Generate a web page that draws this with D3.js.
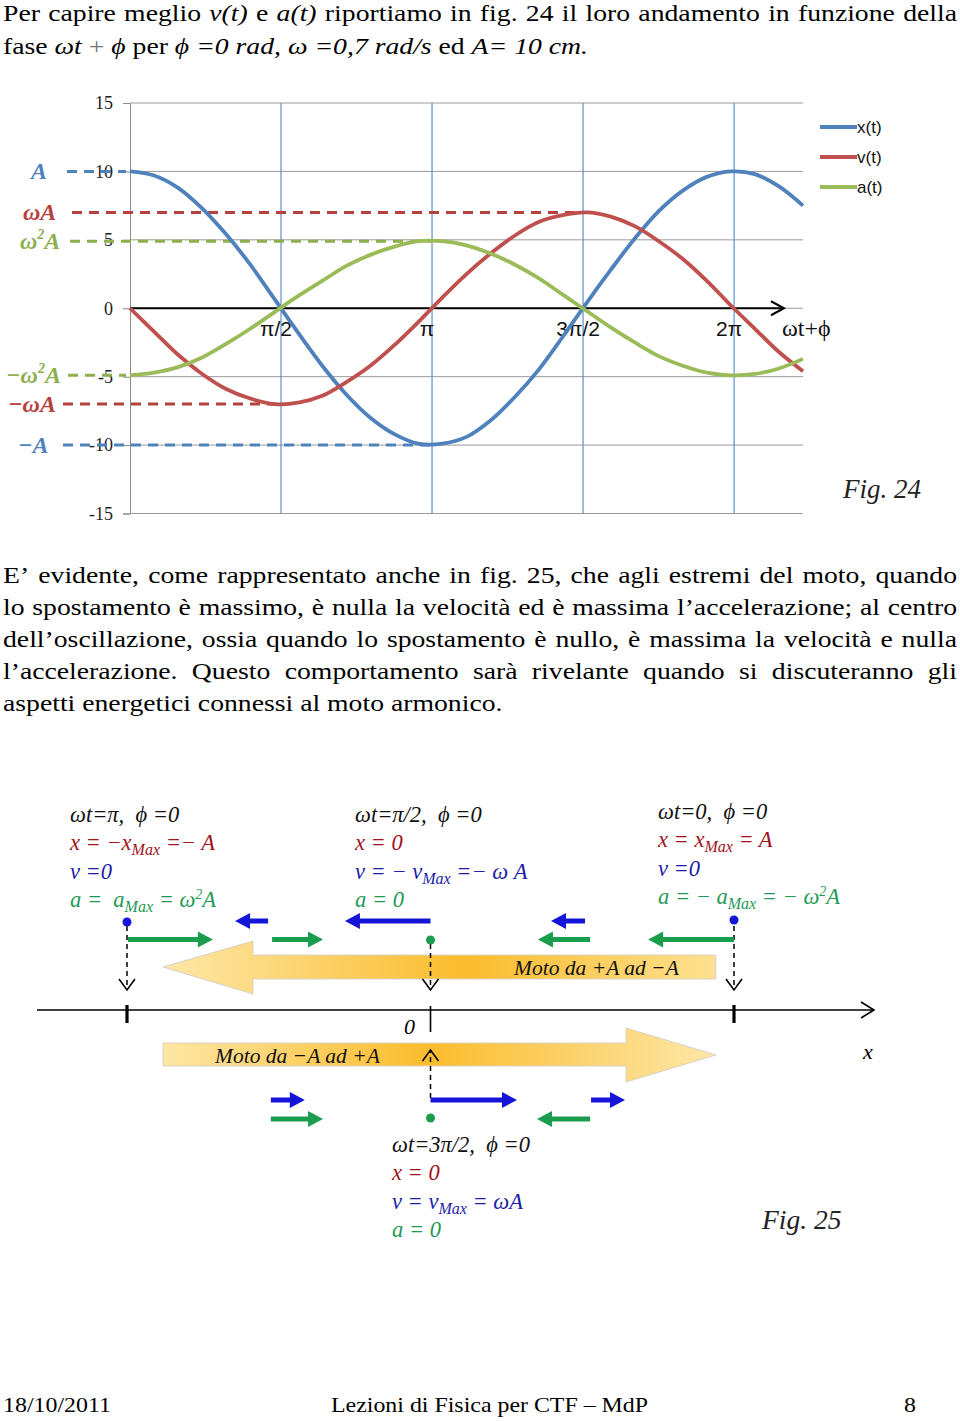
<!DOCTYPE html>
<html><head><meta charset="utf-8">
<script src="https://cdn.jsdelivr.net/npm/d3@7"></script>
<style>body{margin:0;background:#fff}svg{display:block}text{white-space:pre}</style>
</head><body><svg id="c" width="960" height="1421"></svg>
<script>
// ---------- DATA (fig. 24) ----------
const phases = [0,0.25,0.5,0.75,1,1.25,1.5,1.75,2,2.25,2.5,2.75,3,3.25,3.5,3.75,4,4.25,4.5,4.75,5,5.25,5.5,5.75,6,6.25,6.5,6.75,7];
const xSeries = [10,9.7,8.8,7.3,5.4,3.2,0.7,-1.8,-4.2,-6.3,-8.0,-9.2,-9.9,-9.9,-9.4,-8.2,-6.5,-4.5,-2.1,0.4,2.8,5.1,7.1,8.6,9.6,10.0,9.8,8.9,7.5];
const vSeries = [0,-1.7,-3.4,-4.8,-5.9,-6.6,-7.0,-6.9,-6.4,-5.4,-4.2,-2.7,-1.0,0.8,2.5,4.0,5.3,6.3,6.8,7.0,6.7,6.0,4.9,3.6,2.0,0.2,-1.5,-3.2,-4.6];
const aSeries = [-4.9,-4.7,-4.3,-3.6,-2.6,-1.5,-0.3,0.9,2.0,3.1,3.9,4.5,4.9,4.9,4.6,4.0,3.2,2.2,1.0,-0.2,-1.4,-2.5,-3.5,-4.2,-4.7,-4.9,-4.8,-4.4,-3.7];
const seriesNames = ["x(t)","v(t)","a(t)"];
const yTicks = [15,10,5,0,-5,-10,-15];
const piMarks = [Math.PI/2, Math.PI, 3*Math.PI/2, 2*Math.PI];
const piLabels = ["π/2","π","3π/2","2π"];
const refValues = [10, 7, 4.9, -4.9, -7, -10];
const refEnds = [0, 3*Math.PI/2, Math.PI, 0, Math.PI/2, Math.PI];
const refLabels = [[["A",""]],[["ωA",""]],[["ω",""],["2","p"],["A",""]],[["−ω",""],["2","p"],["A",""]],[["−ωA",""]],[["−A",""]]];

// ---------- DATA (fig. 25) ----------
const statePos = [-1, 0, 1, 0];            // positions in units of A
const vTop = [[-0.535,-0.644],[0,-0.282],[0.509,0.397]];   // [tail, head]
const aTop = [[-0.997,-0.717],[-0.522,-0.354],[0.526,0.354],[1,0.717]];
const vBottom = [[-0.526,-0.414],[0,0.285],[0.529,0.641]];
const aBottom = [[-0.526,-0.354],[0.526,0.351]];

const svg = d3.select('#c');
const serif = "'Liberation Serif','Times New Roman',serif";
const sans = "'Liberation Sans',Arial,sans-serif";
const C = {blue:"#4F81BD", red:"#C0504D", green:"#9BBB59"};
const seriesColors = [C.blue, C.red, C.green];
const refColors = ["#4F81BD","#B5403D","#8DAF4E","#8DAF4E","#B5403D","#4F81BD"];
const refStarts = [67,72,70,68,63,63];
const refLabelX = [31,23,20,6,8,18];
const SX = 1.155;   // horizontal stretch of the page text

// ---------- justified text helper ----------
function textLine(y, words, x0, x1, size, doJustify, sx) {
  const g = svg.append('g').attr('transform', `scale(${sx},1)`)
    .attr('font-family', serif).attr('font-size', size).attr('fill', '#000');
  const nodes = words.map(w => g.append('text').attr('y', y).attr('font-style', w.i ? 'italic' : null).text(w.t));
  const ws = nodes.map(n => n.node().getComputedTextLength());
  const L0 = x0 / sx, L1 = x1 / sx;
  const gap = doJustify ? (L1 - L0 - d3.sum(ws)) / (ws.length - 1) : size * 0.25;
  let x = L0;
  nodes.forEach((n, i) => { n.attr('x', x); x += ws[i] + gap; });
}
const plain = s => s.split(' ').map(t => ({t}));
function stretchText(parent, x, y, sx) {
  return parent.append('text').attr('transform', `translate(${x},${y}) scale(${sx},1)`);
}

// top text
textLine(21, [...plain("Per capire meglio"), {t:"v(t)",i:1}, {t:"e"}, {t:"a(t)",i:1}, ...plain("riportiamo in fig. 24 il loro andamento in funzione della")], 3, 957, 24, true, SX);
{
  const t = stretchText(svg, 3, 54, SX).attr('font-family', serif).attr('font-size', 24);
  [["fase ",0],["ωt",1],[" + ",2],["ϕ",1],[" per ",0],["ϕ",1],[" =0 rad, ",1],["ω",1],[" =0,7 rad/s",1],[" ed ",0],["A",1],["= 10 cm.",1]]
    .forEach(([s,k]) => t.append('tspan').attr('font-style', k===1?'italic':null).attr('fill', k===2?'#777':'#000').text(s));
}

// ---------- FIG 24 ----------
const xs = d3.scaleLinear().domain([0, 7]).range([130, 803]);
const ys = d3.scaleLinear().domain([-15, 15]).range([513.5, 103]);

const g24 = svg.append('g');
g24.selectAll('line.hg').data(yTicks).join('line')
  .attr('x1', xs(0)).attr('x2', xs(7)).attr('y1', d => ys(d)).attr('y2', d => ys(d))
  .attr('stroke', '#9a9a9a').attr('stroke-width', 1);
const yAxis = d3.axisLeft(ys).tickValues(yTicks).tickSize(7).tickFormat(d => String(d));
const ya = g24.append('g').attr('transform', `translate(${xs(0)},0)`).call(yAxis)
  .attr('font-family', serif).attr('font-size', 18);
ya.select('.domain').attr('stroke', '#8a8a8a');
ya.selectAll('.tick line').attr('stroke', '#8a8a8a');
ya.selectAll('.tick text').attr('font-family', serif).attr('font-size', 18).attr('fill', '#222').attr('x', -17);
g24.selectAll('line.vg').data(piMarks).join('line')
  .attr('x1', d => xs(d)).attr('x2', d => xs(d)).attr('y1', ys(15)).attr('y2', ys(-15))
  .attr('stroke', '#5B8FD0').attr('stroke-width', 1.2);
g24.append('line').attr('x1', xs(0)).attr('x2', 783).attr('y1', ys(0)).attr('y2', ys(0)).attr('stroke', '#000').attr('stroke-width', 2);
g24.append('path').attr('d', `M771,${ys(0)-7} L784,${ys(0)} L771,${ys(0)+7}`).attr('fill', 'none').attr('stroke', '#000').attr('stroke-width', 2);
g24.selectAll('text.pl').data(piLabels).join('text')
  .attr('x', (d, i) => xs(piMarks[i]) - 5).attr('y', ys(0) + 28).attr('text-anchor', 'middle')
  .attr('font-family', sans).attr('font-size', 21).attr('fill', '#111').text(d => d);
g24.append('text').attr('x', 782).attr('y', ys(0) + 28).attr('font-family', serif).attr('font-size', 24).attr('fill', '#111').text('ωt+ϕ');

// reference dashed lines
g24.selectAll('line.ref').data(refValues).join('line')
  .attr('x1', (d, i) => refStarts[i]).attr('x2', (d, i) => refEnds[i] === 0 ? xs(0) - 4 : xs(refEnds[i]))
  .attr('y1', d => ys(d)).attr('y2', d => ys(d))
  .attr('stroke', (d, i) => refColors[i]).attr('stroke-width', 3).attr('stroke-dasharray', '10,7');
refValues.forEach((v, i) => {
  const t = g24.append('text').attr('x', refLabelX[i]).attr('y', ys(v) + 8)
    .attr('font-family', serif).attr('font-size', 24).attr('font-weight', 'bold').attr('font-style', 'italic')
    .attr('fill', refColors[i]);
  let prevSup = false;
  refLabels[i].forEach(([s, k]) => {
    const ts = t.append('tspan').text(s);
    if (k === 'p') { ts.attr('font-size', 14).attr('dy', -10); prevSup = true; }
    else if (prevSup) { ts.attr('dy', 10); prevSup = false; }
  });
});

// curves
const seriesData = [xSeries, vSeries, aSeries];
const line = d3.line().x((d, i) => xs(phases[i])).y(d => ys(d)).curve(d3.curveCatmullRom.alpha(0.5));
g24.selectAll('path.s').data(seriesData).join('path')
  .attr('d', d => line(d)).attr('fill', 'none').attr('stroke', (d, i) => seriesColors[i]).attr('stroke-width', 3.8);

// legend
const lg = g24.append('g');
seriesNames.forEach((n, i) => {
  const y = 127 + i * 30;
  lg.append('line').attr('x1', 820).attr('x2', 857).attr('y1', y).attr('y2', y).attr('stroke', seriesColors[i]).attr('stroke-width', 4);
  lg.append('text').attr('x', 857).attr('y', y + 6).attr('font-family', sans).attr('font-size', 17).attr('fill', '#111').text(n);
});
svg.append('text').attr('x', 843).attr('y', 498).attr('font-family', serif).attr('font-size', 27).attr('font-style', 'italic').attr('fill', '#222').text('Fig. 24');

// paragraph
const para = [
  "E’ evidente, come rappresentato anche in fig. 25, che agli estremi del moto, quando",
  "lo spostamento è massimo, è nulla la velocità ed è massima l’accelerazione; al centro",
  "dell’oscillazione, ossia quando lo spostamento è nullo, è massima la velocità e nulla",
  "l’accelerazione. Questo comportamento sarà rivelante quando si discuteranno gli",
  "aspetti energetici connessi al moto armonico."
];
para.forEach((l, i) => textLine(583 + i * 32, plain(l), 3, 957, 24, i < para.length - 1, SX));

// ---------- FIG 25 ----------
const ps = d3.scaleLinear().domain([-1, 1]).range([127, 734]);
const g25 = svg.append('g');
const defs = svg.append('defs');
function grad(id, x1, x2, stops) {
  const lgd = defs.append('linearGradient').attr('id', id).attr('gradientUnits', 'userSpaceOnUse')
    .attr('x1', x1).attr('x2', x2).attr('y1', 0).attr('y2', 0);
  stops.forEach(([o, c]) => lgd.append('stop').attr('offset', o).attr('stop-color', c));
}
grad('gUp', 163, 717, [[0, '#FDE7A8'], [0.55, '#FBBC2C'], [1, '#FDE190']]);
grad('gDn', 163, 716, [[0, '#FDE6A4'], [0.48, '#FBBC2C'], [1, '#FDE7A8']]);

g25.append('path').attr('d', `M${ps(0.94)},955 L253,955 L253,941 L163,967 L253,994 L253,979 L${ps(0.94)},979 Z`)
  .attr('fill', 'url(#gUp)').attr('stroke', '#d9d2c4').attr('stroke-width', 1);
g25.append('path').attr('d', `M163,1043 L626,1043 L626,1028 L${ps(0.94)},1055 L626,1082 L626,1066 L163,1066 Z`)
  .attr('fill', 'url(#gDn)').attr('stroke', '#d9d2c4').attr('stroke-width', 1);
g25.append('text').attr('x', 514).attr('y', 975).attr('font-family', serif).attr('font-size', 21.5).attr('font-style', 'italic').attr('fill', '#111').text('Moto da +A ad −A');
g25.append('text').attr('x', 215).attr('y', 1063).attr('font-family', serif).attr('font-size', 21.5).attr('font-style', 'italic').attr('fill', '#111').text('Moto da −A ad +A');

const AY = 1010;
g25.append('line').attr('x1', 37).attr('x2', 873).attr('y1', AY).attr('y2', AY).attr('stroke', '#000').attr('stroke-width', 1.6);
g25.append('path').attr('d', `M861,${AY-8} L874,${AY} L861,${AY+8}`).attr('fill', 'none').attr('stroke', '#000').attr('stroke-width', 1.6);
[-1, 1].forEach(p => g25.append('line').attr('x1', ps(p)).attr('x2', ps(p)).attr('y1', AY - 5).attr('y2', AY + 13).attr('stroke', '#000').attr('stroke-width', 3.2));
g25.append('line').attr('x1', ps(0)).attr('x2', ps(0)).attr('y1', AY - 4).attr('y2', AY + 22).attr('stroke', '#000').attr('stroke-width', 1.6);
g25.append('text').attr('x', 404).attr('y', 1034).attr('font-family', serif).attr('font-size', 22).attr('font-style', 'italic').text('0');
g25.append('text').attr('x', 863).attr('y', 1059).attr('font-family', serif).attr('font-size', 22).attr('font-style', 'italic').text('x');

function dashArrow(x, yFrom, yTo) {
  g25.append('line').attr('x1', x).attr('x2', x).attr('y1', yFrom).attr('y2', yTo).attr('stroke', '#000').attr('stroke-width', 1.5).attr('stroke-dasharray', '5,4');
  const s = yTo > yFrom ? -1 : 1;
  g25.append('path').attr('d', `M${x-8},${yTo + s*11} L${x},${yTo} L${x+8},${yTo + s*11}`).attr('fill', 'none').attr('stroke', '#000').attr('stroke-width', 1.6);
}
dashArrow(ps(-1), 926, 990);
dashArrow(ps(0), 944, 990);
dashArrow(ps(1), 926, 990);
dashArrow(ps(0), 1098, 1050);

function arrow(tail, head, y, color) {
  const x0 = ps(tail), x1 = ps(head), dir = Math.sign(x1 - x0);
  const hl = 15, hw = 8, sw = 2.5;
  const xb = x1 - dir * hl;
  g25.append('path').attr('d', `M${x0},${y-sw} L${xb},${y-sw} L${xb},${y-hw} L${x1},${y} L${xb},${y+hw} L${xb},${y+sw} L${x0},${y+sw} Z`).attr('fill', color);
}
const BLUE = '#1515D8', GREEN = '#1A9E4E';
vTop.forEach(([t, h]) => arrow(t, h, 921, BLUE));
aTop.forEach(([t, h]) => arrow(t, h, 939.5, GREEN));
vBottom.forEach(([t, h]) => arrow(t, h, 1100, BLUE));
aBottom.forEach(([t, h]) => arrow(t, h, 1119, GREEN));

const dotY = [922, 940, 920, 1118];
const dotC = [BLUE, GREEN, BLUE, GREEN];
g25.selectAll('circle.st').data(statePos).join('circle')
  .attr('cx', d => ps(d)).attr('cy', (d, i) => dotY[i]).attr('r', 4.5).attr('fill', (d, i) => dotC[i]);

const TXT = {k:'#111', r:'#A0121C', b:'#1C1CA8', g:'#1E9A55'};
function rich(x, y, col, segs) {
  const t = g25.append('text').attr('x', x).attr('y', y).attr('font-family', serif).attr('font-size', 22.5).attr('font-style', 'italic').attr('fill', col);
  let shift = 0;
  segs.forEach(s => {
    const [str, k] = Array.isArray(s) ? s : [s, ''];
    const ts = t.append('tspan').text(str);
    let target = k === 's' ? 5 : k === 'p' ? -8 : 0;
    if (target !== shift) { ts.attr('dy', target - shift); shift = target; }
    if (k) ts.attr('font-size', k === 's' ? 16 : 14);
  });
}
const blocks = [
  {x:70, y:822, lines:[[TXT.k,["ωt=π,  ϕ =0"]],[TXT.r,["x = −x",["Max","s"]," =− A"]],[TXT.b,["v =0"]],[TXT.g,["a =  a",["Max","s"]," = ω",["2","p"],"A"]]]},
  {x:355, y:822, lines:[[TXT.k,["ωt=π/2,  ϕ =0"]],[TXT.r,["x = 0"]],[TXT.b,["v = − v",["Max","s"]," =− ω A"]],[TXT.g,["a = 0"]]]},
  {x:658, y:819, lines:[[TXT.k,["ωt=0,  ϕ =0"]],[TXT.r,["x = x",["Max","s"]," = A"]],[TXT.b,["v =0"]],[TXT.g,["a = − a",["Max","s"]," = − ω",["2","p"],"A"]]]},
  {x:392, y:1152, lines:[[TXT.k,["ωt=3π/2,  ϕ =0"]],[TXT.r,["x = 0"]],[TXT.b,["v = v",["Max","s"]," = ωA"]],[TXT.g,["a = 0"]]]}
];
blocks.forEach(b => b.lines.forEach(([col, segs], i) => rich(b.x, b.y + i * 28.3, col, segs)));
svg.append('text').attr('x', 762).attr('y', 1229).attr('font-family', serif).attr('font-size', 27.5).attr('font-style', 'italic').attr('fill', '#222').text('Fig. 25');

// footer
const foot = svg.append('g').attr('font-family', serif).attr('font-size', 22).attr('fill', '#000');
stretchText(foot, 3, 1412, 1.086).text('18/10/2011');
stretchText(foot, 331, 1412, 1.086).text('Lezioni di Fisica per CTF – MdP');
stretchText(foot, 904, 1412, 1.086).text('8');
</script></body></html>
